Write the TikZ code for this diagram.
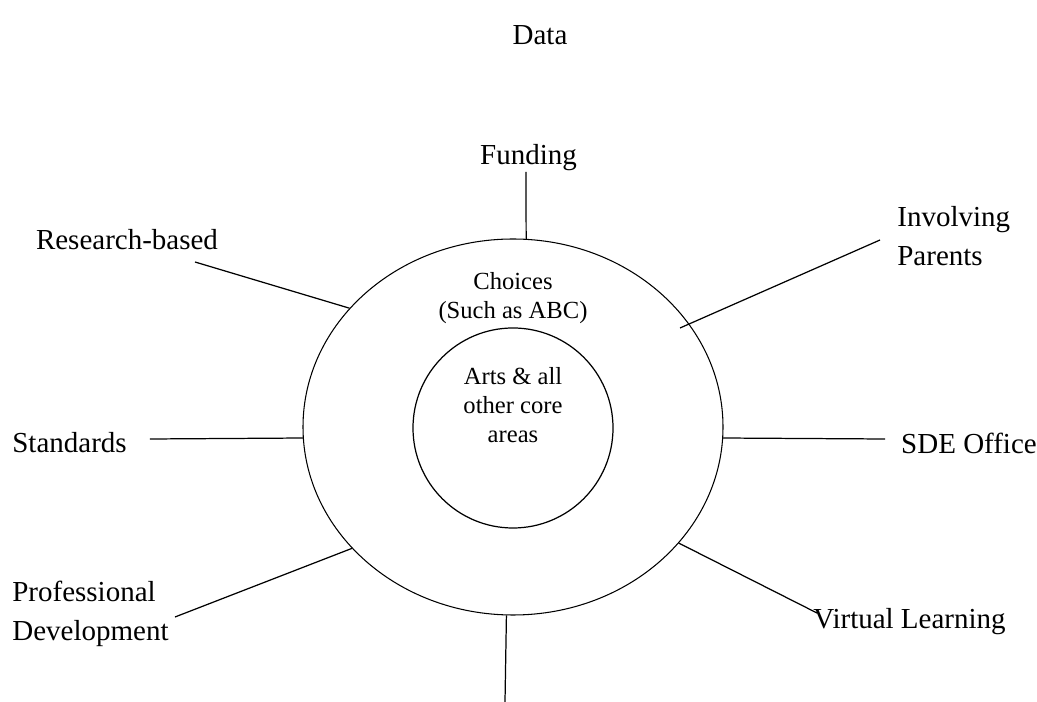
\documentclass[tikz,border=0pt]{standalone}
\usepackage{fontspec}
\setmainfont{Liberation Serif}
\usetikzlibrary{shapes.geometric}
\tikzset{
  label text/.style={font=\fontsize{16.5}{22}\selectfont, inner sep=0pt},
  ring text/.style={font=\fontsize{14}{16.5}\selectfont, align=center, inner sep=0pt},
  spoke/.style={line width=0.7pt},
}
\begin{document}
\begin{tikzpicture}
  \useasboundingbox (-10.26,-5.5) rectangle (10.48,8.54);
  \node[label text] (data) at (0.54,7.84) {Data};
  % the two rings
  \node[draw, ellipse, line width=0.6pt, minimum width=8.4cm, minimum height=7.52cm, inner sep=0pt] (choices) at (0,0) {};
  \node[draw, circle, line width=0.7pt, minimum size=4cm, inner sep=0pt] (core) at (0,-0.02) {};
  \node[ring text] (choicestext) at (0,2.58) {Choices\\(Such as ABC)};
  \node[ring text] (coretext) at (0,0.44) {Arts \& all\\other core\\areas};
  % labels round the outside
  \node[label text] (funding) at (0.31,5.38) {Funding};
  \node[label text] (research) at (-7.72,3.74) {Research-based};
  \node[label text, align=left, anchor=west] (parents) at (7.68,3.82) {Involving\\Parents};
  \node[label text, anchor=west] (standards) at (-10.02,-0.32) {Standards};
  \node[label text] (sde) at (9.12,-0.32) {SDE Office};
  \node[label text, align=left, anchor=west] (profdev) at (-10.02,-3.74) {Professional\\Development};
  \node[label text, anchor=west] (virtual) at (6.0,-3.9) {Virtual Learning};
  % free ends of the spokes
  \coordinate (fund end) at (0.26,5.1);
  \coordinate (res end) at (-6.36,3.3);
  \coordinate (par end) at (7.34,3.74);
  \coordinate (par tip) at (3.34,1.98);
  \coordinate (std end) at (-7.26,-0.24);
  \coordinate (sde end) at (7.44,-0.24);
  \coordinate (prof end) at (-6.76,-3.8);
  \coordinate (virt end) at (6.08,-3.72);
  \coordinate (low end) at (-0.16,-5.5);
  \draw[spoke] (fund end) -- (choices.86);
  \draw[spoke] (res end) -- (choices.144);
  \draw[spoke] (par end) -- (par tip);
  \draw[spoke] (std end) -- (choices.183);
  \draw[spoke] (sde end) -- (choices.-3.3);
  \draw[spoke] (prof end) -- (choices.217.3);
  \draw[spoke] (virt end) -- (choices.-35.7);
  \draw[spoke] (low end) -- (choices.-92.4);
\end{tikzpicture}
\end{document}
